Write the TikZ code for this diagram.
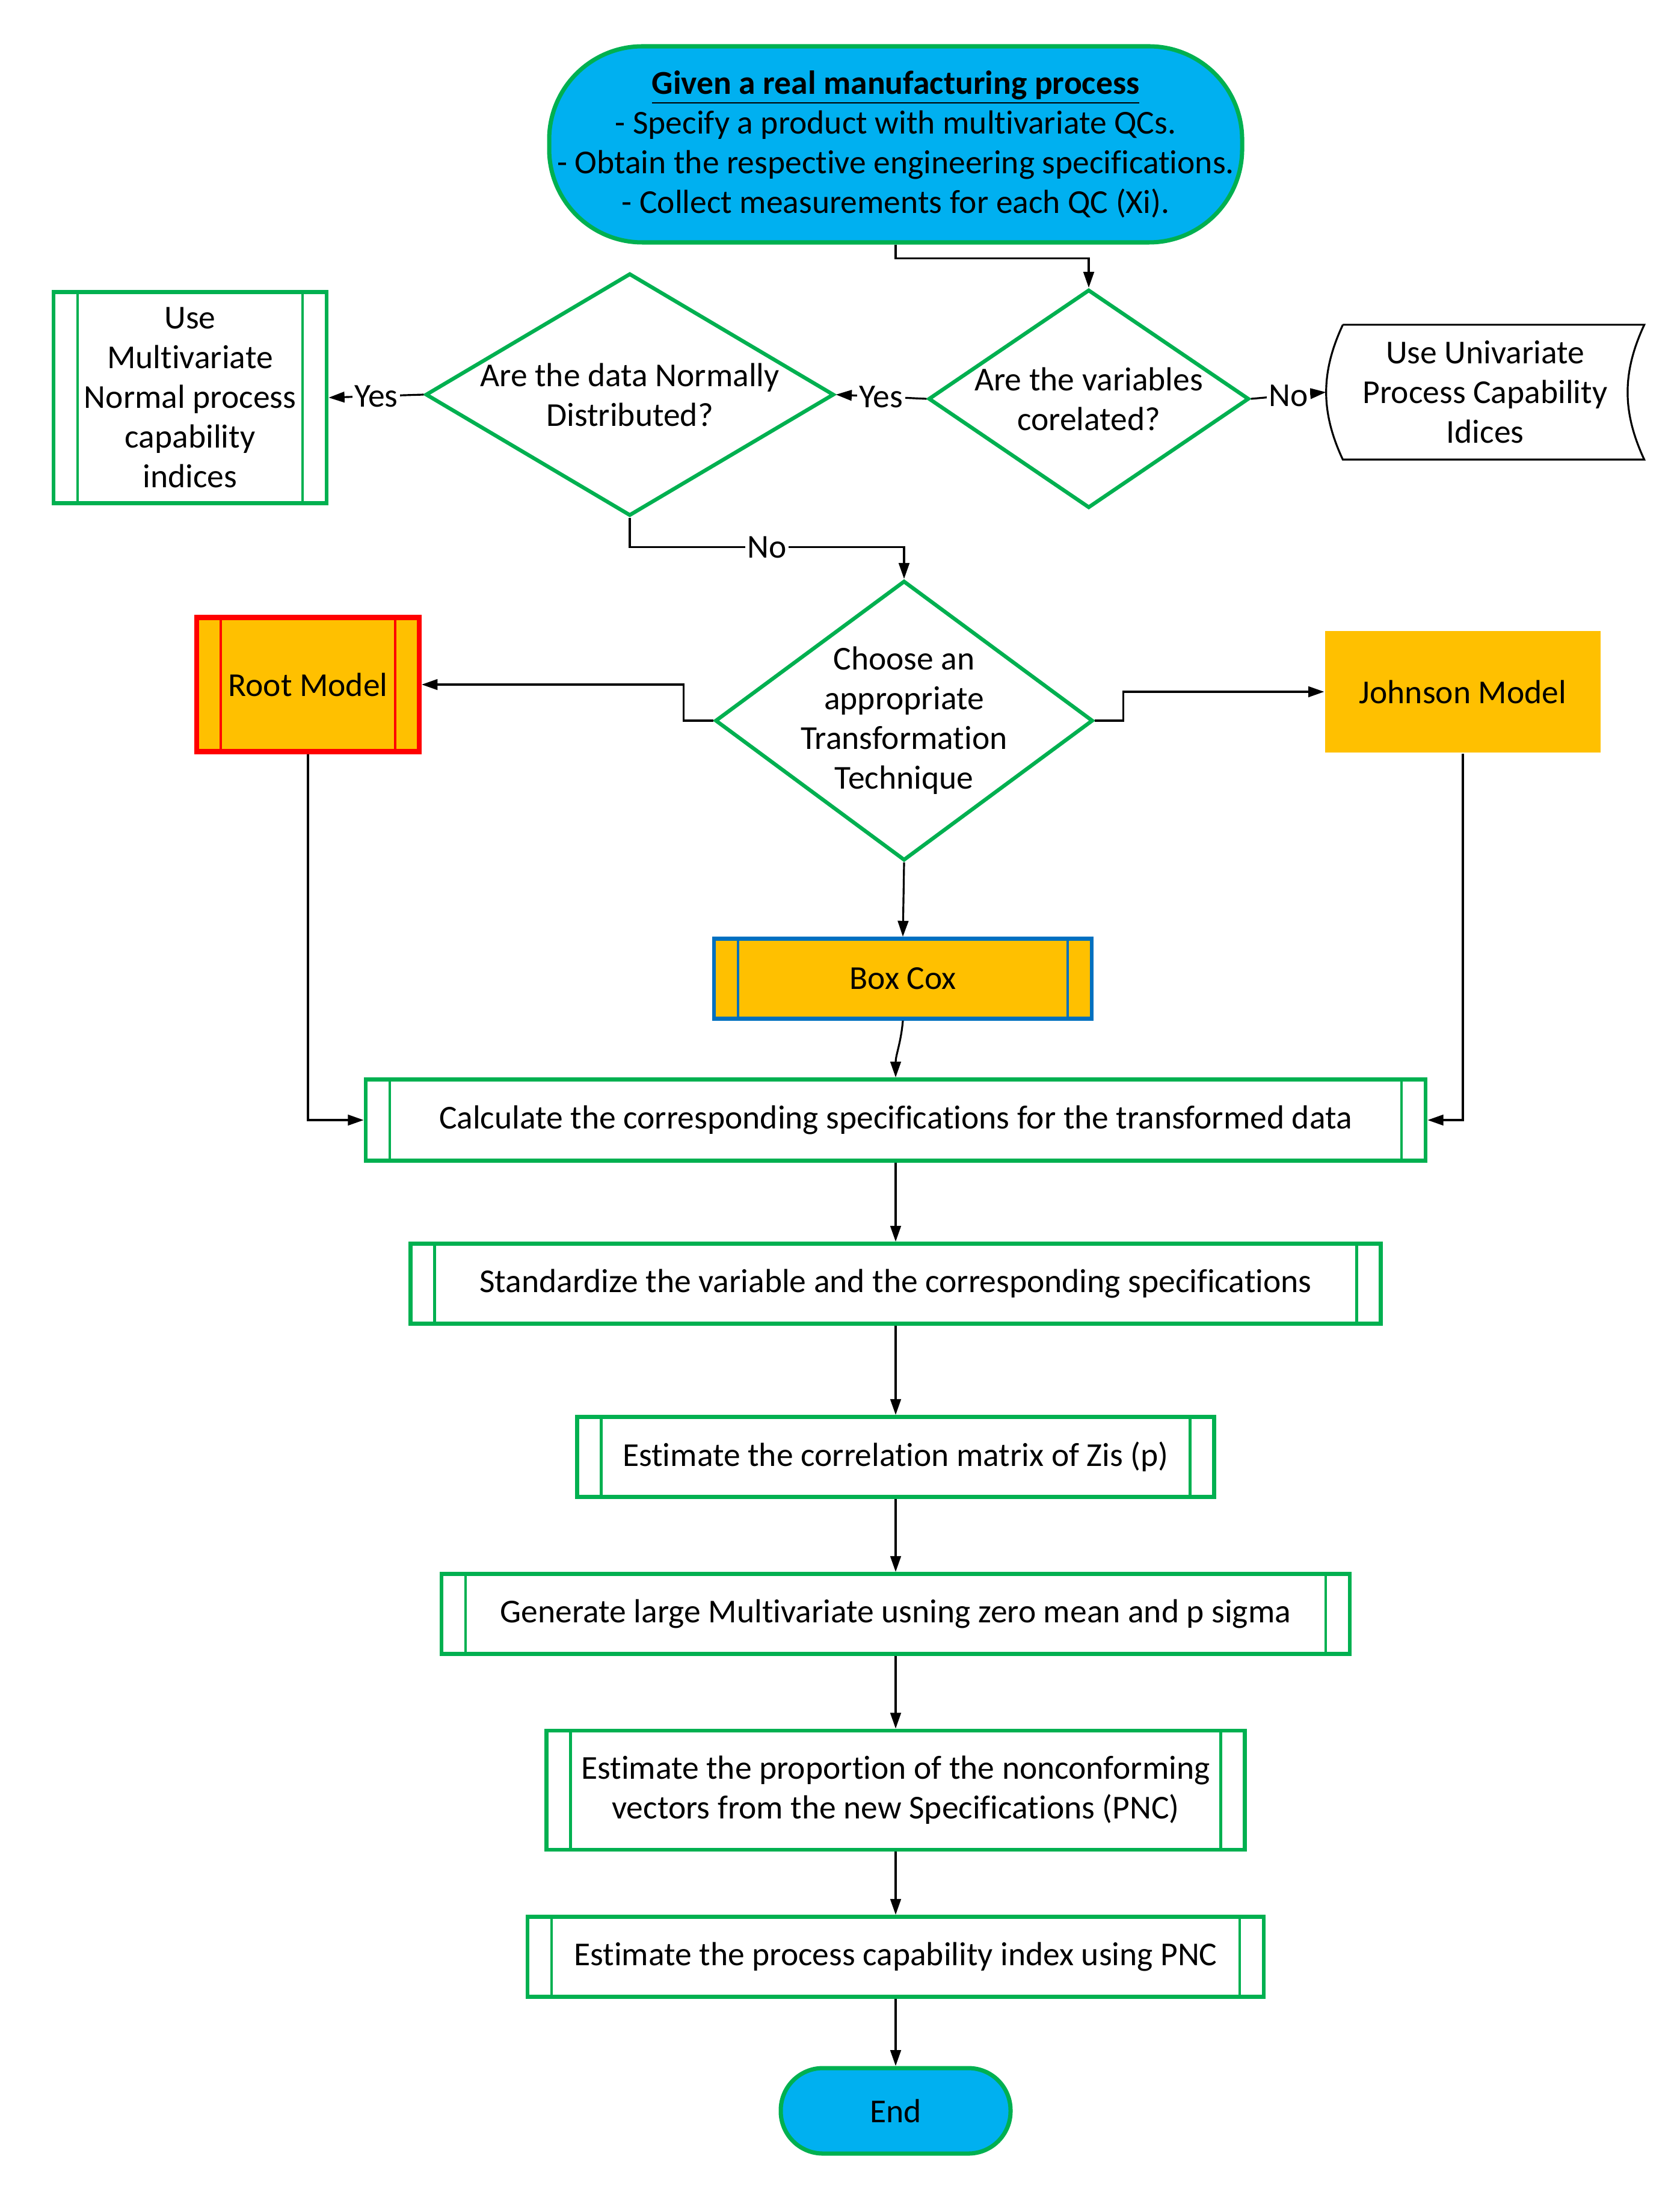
\documentclass[tikz,border=0pt]{standalone}
\usepackage{fontspec}
\setmainfont{Carlito}[RawFeature={-liga}]
\usetikzlibrary{shapes.geometric,arrows.meta}

\definecolor{flowgreen}{HTML}{00B050}
\definecolor{flowcyan}{HTML}{00B0F0}
\definecolor{floworange}{HTML}{FFC000}
\definecolor{flowblue}{HTML}{0070C0}
\definecolor{flowred}{HTML}{FF0000}

\tikzset{
  term/.style={rectangle, draw=flowgreen, fill=flowcyan, line width=2pt, align=center, inner sep=1pt},
  decision/.style={diamond, draw=flowgreen, line width=1.8pt, inner sep=0pt},
  subproc/.style={rectangle, draw=#1, line width=1.9pt, align=center, inner sep=1pt,
    path picture={\draw [#1, line width=1.2pt]
      ([xshift=0.4cm]path picture bounding box.north west) -- ([xshift=0.4cm]path picture bounding box.south west)
      ([xshift=-0.4cm]path picture bounding box.north east) -- ([xshift=-0.4cm]path picture bounding box.south east);}},
  subproc/.default=flowgreen,
  stored/.style={rectangle, align=center, inner sep=1pt},
  lbl/.style={fill=white, inner sep=1pt}
}

\begin{document}
\begin{tikzpicture}[>={Triangle[length=7.5pt, width=5pt]}, line width=0.9pt,
  font=\fontsize{15.8}{18.8}\selectfont]

    \useasboundingbox (0, 0) rectangle (27.92, -36.44);

    \node [term, minimum width=11.52cm, minimum height=3.26cm, rounded corners=1.55cm] (a) at (14.89, -2.40)
      {\underline{\textbf{Given a real manufacturing process}}\\- Specify a product with multivariate QCs.\\- Obtain the respective engineering specifications.\\- Collect measurements for each QC (Xi).};
    \node [decision, minimum width=5.33cm, minimum height=3.63cm,
      label={[align=center]center:Are the variables\\corelated?}] (b) at (18.10, -6.63) {};
    \node [decision, minimum width=6.79cm, minimum height=4.03cm,
      label={[align=center]center:Are the data Normally\\Distributed?}] (c) at (10.47, -6.56) {};
    \node [stored, minimum width=5.26cm, minimum height=2.21cm] (d) at (24.69, -6.52) {Use Univariate\\Process Capability\\Idices};
    \node [subproc, minimum width=4.54cm, minimum height=3.51cm] (e) at (3.16, -6.61) {Use\\Multivariate\\Normal process\\capability\\indices};
    \node [decision, minimum width=6.28cm, minimum height=4.65cm,
      label={[align=center]center:Choose an\\appropriate\\Transformation\\Technique}] (f) at (15.03, -11.98) {};
    \node [subproc=flowred, fill=floworange, line width=2.3pt, minimum width=3.70cm, minimum height=2.23cm] (g) at (5.12, -11.38) {Root Model};
    \node [rectangle, fill=floworange, minimum width=4.58cm, minimum height=2.02cm] (h) at (24.32, -11.50) {Johnson Model};
    \node [subproc=flowblue, fill=floworange, minimum width=6.28cm, minimum height=1.33cm] (i) at (15.01, -16.27) {Box Cox};
    \node [subproc, minimum width=17.62cm, minimum height=1.35cm] (j) at (14.89, -18.62) {Calculate the corresponding specifications for the transformed data};
    \node [subproc, minimum width=16.13cm, minimum height=1.33cm] (k) at (14.89, -21.34) {Standardize the variable and the corresponding specifications};
    \node [subproc, minimum width=10.59cm, minimum height=1.33cm] (l) at (14.89, -24.22) {Estimate the correlation matrix of Zis (p)};
    \node [subproc, minimum width=15.10cm, minimum height=1.33cm] (m) at (14.89, -26.83) {Generate large Multivariate usning zero mean and p sigma};
    \node [subproc, minimum width=11.61cm, minimum height=1.98cm] (n) at (14.89, -29.76) {Estimate the proportion of the nonconforming\\vectors from the new Specifications (PNC)};
    \node [subproc, minimum width=12.24cm, minimum height=1.33cm] (o) at (14.89, -32.53) {Estimate the process capability index using PNC};
    \node [term, minimum width=3.82cm, minimum height=1.42cm, rounded corners=0.7cm] (p) at (14.89, -35.09) {End};

    % stored data outline
    \draw ([xshift=0.28cm]d.north west) -- (d.north east) to [bend right=25] (d.south east)
      -- ([xshift=0.28cm]d.south west) to [bend left=25] ([xshift=0.28cm]d.north west);

    \draw [->] (a.south) -- ++(0, -0.23) -| (b.north);
    \draw [->] (b.west) to node [lbl] {Yes} (c.east);
    \draw [->] (b.east) to node [lbl] {No} (d.west);
    \draw [->] (c.west) to node [lbl] {Yes} (e.east);
    \draw [->] (c.south) -- ++(0, -0.49) -| node [lbl, pos=0.25] {No} (f.north);

    \draw [->] (f.west) -- ++(-0.49, 0) |- (g.east);
    \draw [->] (f.east) -- ++(0.47, 0) |- (h.west);
    \draw [->] (f.south) to (i.north);
    \draw [->] (i.south) to [out=-95, in=90] (j.north);
    \draw [->] (g.south) |- (j.west);
    \draw [->] (h.south) |- (j.east);

    \draw [->] (j) to (k);
    \draw [->] (k) to (l);
    \draw [->] (l) to (m);
    \draw [->] (m) to (n);
    \draw [->] (n) to (o);
    \draw [->] (o) to (p);

\end{tikzpicture}
\end{document}
